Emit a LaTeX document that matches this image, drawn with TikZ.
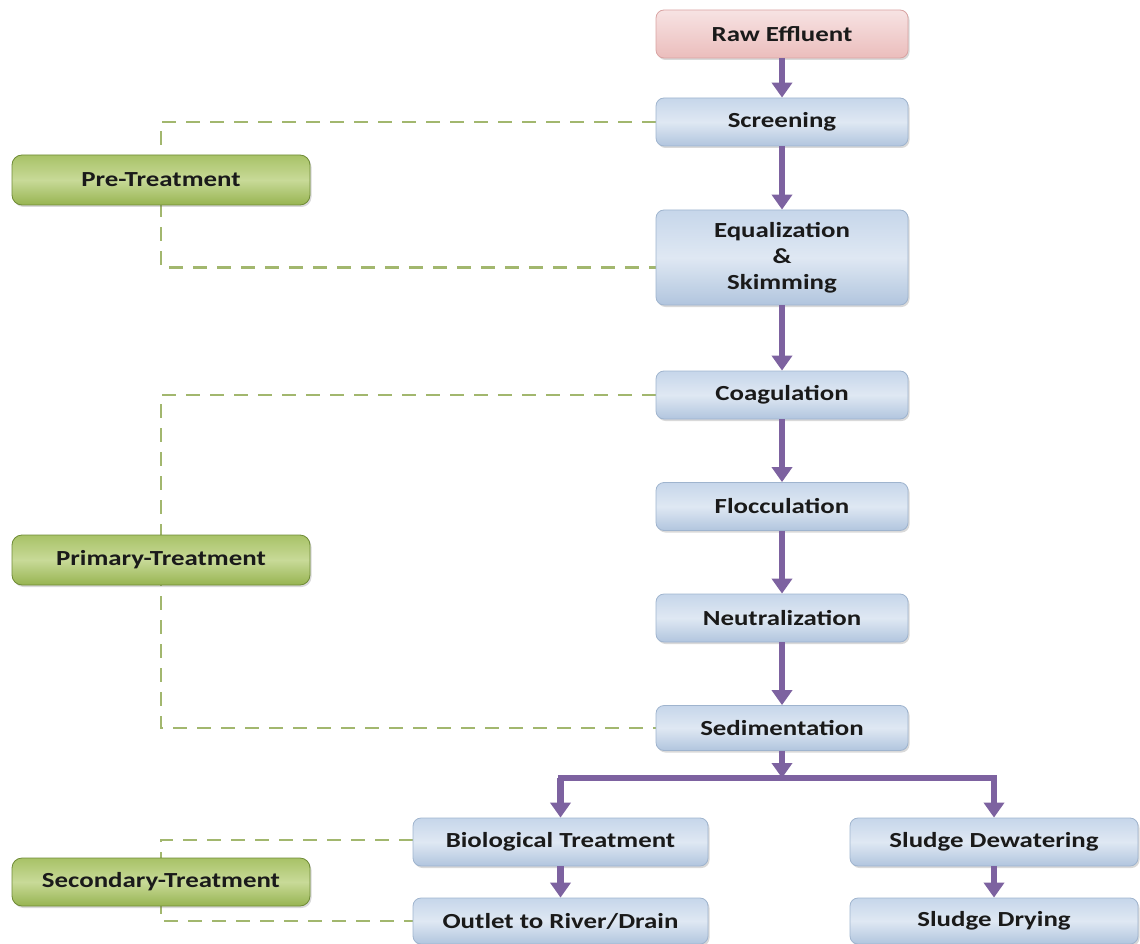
\documentclass[tikz,border=0pt]{standalone}
\usepackage{fontspec}
\newfontfamily\boxfont{Carlito}[FakeStretch=1.25]
\usetikzlibrary{arrows.meta,backgrounds,shadows,calc}
\definecolor{arrowc}{HTML}{7D62A0}
\definecolor{dashc}{HTML}{A2B76E}
\definecolor{blueT}{HTML}{C6D6EA}
\definecolor{blueM}{HTML}{DFE8F3}
\definecolor{blueB}{HTML}{B1C5DE}
\definecolor{blueD}{HTML}{9FB4CE}
\definecolor{pinkT}{HTML}{F7E3E3}
\definecolor{pinkB}{HTML}{EBBDBC}
\definecolor{pinkD}{HTML}{D9A3A2}
\definecolor{greenT}{HTML}{A8C267}
\definecolor{greenM}{HTML}{C8DA98}
\definecolor{greenB}{HTML}{97B451}
\definecolor{greenD}{HTML}{6F8B36}
\definecolor{txt}{HTML}{1A1A1A}
\tikzset{
  base/.style={rounded corners=8pt, line width=0.8pt, align=center,
    font=\boxfont\bfseries\fontsize{21.5}{26}\selectfont, text=txt,
    inner sep=0pt,
    drop shadow={shadow xshift=1.5pt, shadow yshift=-2pt, opacity=0.25, fill=black!60}},
  bluebox/.style={base, draw=blueD, top color=blueT, bottom color=blueB, middle color=blueM,
    minimum width=252pt, minimum height=48pt},
  pinkbox/.style={base, draw=pinkD, top color=pinkT, bottom color=pinkB,
    minimum width=252pt, minimum height=48pt},
  greenbox/.style={base, rounded corners=10pt, draw=greenD, top color=greenT, bottom color=greenB, middle color=greenM,
    minimum width=298pt, minimum height=50pt},
  flow/.style={draw=arrowc, line width=6.5pt, -{Triangle[width=20pt,length=15pt]}},
  bar/.style={draw=arrowc, line width=5.5pt},
  bracket/.style={draw=dashc, line width=2.6pt, dash pattern=on 14pt off 10pt},
}
\begin{document}
\begin{tikzpicture}[x=1pt,y=-1pt]
\useasboundingbox (0,0) rectangle (1140,944);
% main column
\node[pinkbox] (raw) at (782,34) {Raw Effluent};
\node[bluebox] (screen) at (782,122) {Screening};
\node[bluebox, minimum height=95pt] (equal) at (782,257.5) {Equalization\\\&\\Skimming};
\node[bluebox] (coag) at (782,395) {Coagulation};
\node[bluebox] (floc) at (782,506.5) {Flocculation};
\node[bluebox] (neut) at (782,618) {Neutralization};
\node[bluebox, minimum height=45pt] (sed) at (782,728) {Sedimentation};
\node[bluebox, minimum width=295pt] (bio) at (560.5,842) {Biological Treatment};
\node[bluebox, minimum width=295pt, minimum height=46pt] (outlet) at (560.5,921) {Outlet to River/Drain};
\node[bluebox, minimum width=288pt] (dewater) at (994,842) {Sludge Dewatering};
\node[bluebox, minimum width=288pt, minimum height=46pt] (drying) at (994,921) {Sludge Drying};
% stage labels
\node[greenbox] (pre) at (161,180) {Pre-Treatment};
\node[greenbox] (prim) at (161,560) {Primary-Treatment};
\node[greenbox, minimum height=48pt] (sec) at (161,882) {Secondary-Treatment};
% branch coordinates
\coordinate (split) at (782,778);
\coordinate (bl) at (bio.north |- split);
\coordinate (br) at (dewater.north |- split);
\begin{scope}[on background layer]
  \draw[bracket] (screen.west) -| (pre.center) |- ($(equal.west)+(0,10)$);
  \draw[bracket] (coag.west) -| (prim.center) |- (sed.west);
  \draw[bracket] ($(bio.west)+(0,-2)$) -| (sec.center) |- (outlet.west);
\end{scope}
% flow arrows
\draw[flow] (raw) -- (screen);
\draw[flow] (screen) -- (equal);
\draw[flow] (equal) -- (coag);
\draw[flow] (coag) -- (floc);
\draw[flow] (floc) -- (neut);
\draw[flow] (neut) -- (sed);
\draw[bar] ($(bl)+(-2.75,0)$) -- ($(br)+(2.75,0)$);
\draw[flow] (sed) -- (split);
\draw[flow] (bl) -- (bio);
\draw[flow] (br) -- (dewater);
\draw[flow] (bio) -- (outlet);
\draw[flow] (dewater) -- (drying);
\end{tikzpicture}
\end{document}
